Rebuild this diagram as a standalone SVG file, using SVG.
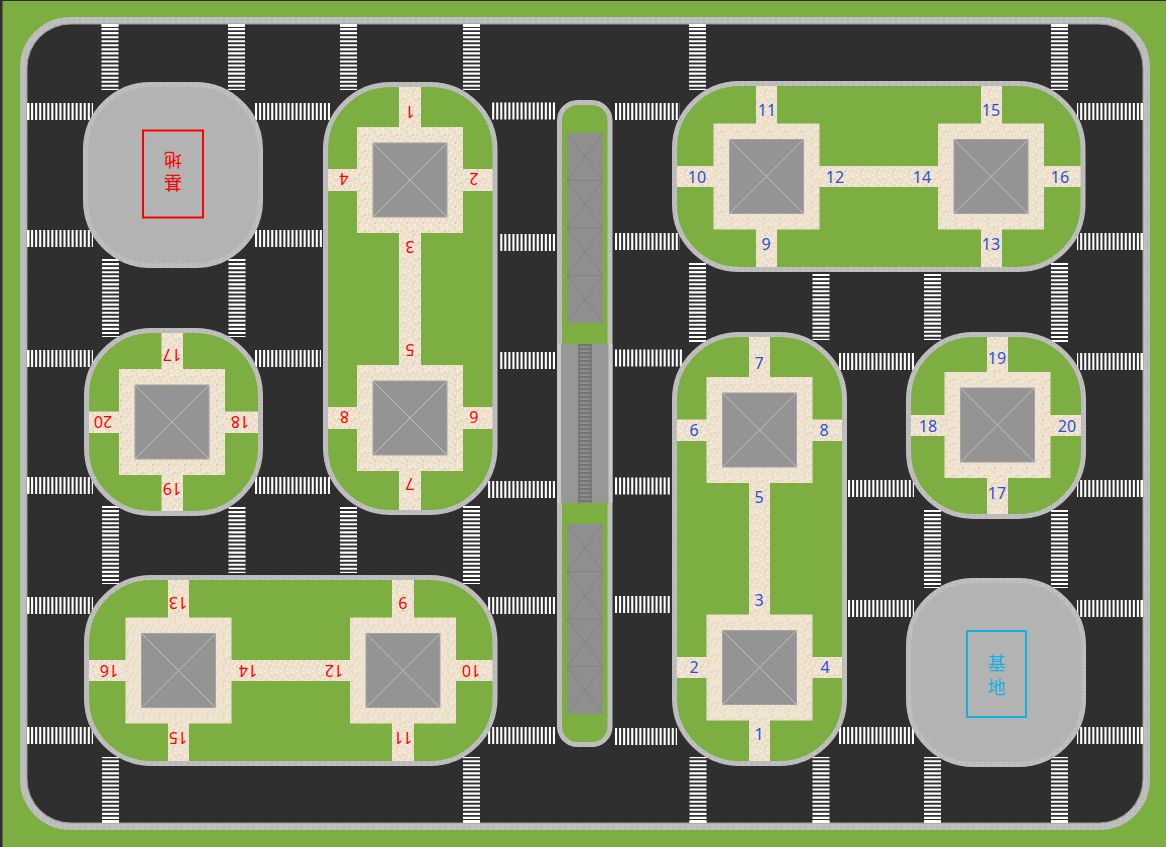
<svg xmlns="http://www.w3.org/2000/svg" width="1166" height="847" viewBox="0 0 1166 847">
<style>
.edge{fill:none;stroke:#9c9c9c;stroke-width:1}
.curb{fill:none;stroke:url(#grain)}
.c5{stroke-width:5}
.z{fill:none;stroke:#fff;stroke-width:17;stroke-dasharray:2.1 1.95}
.zc{fill:none;stroke:#fff;stroke-width:17}
.grass{fill:#7cae41}
.lot{fill:#b3b3b3}
.pave{fill:url(#paving)}
.roof{fill:#949494;stroke:#a4a4a4;stroke-width:1}
.diag{stroke:#bebebe;stroke-width:1;fill:none}
.brace{stroke:#7e7e7e;stroke-width:.7;fill:none}
.b,.r{font-family:"Noto Sans","Open Sans","Liberation Sans",sans-serif;font-size:16px;text-anchor:middle;dominant-baseline:central}
.b{fill:#2b50d8}
.r{fill:#ff0000}
.cjk{font-family:"Noto Sans CJK SC","Noto Sans",sans-serif;font-size:18px;text-anchor:middle;dominant-baseline:central}
</style>
<defs>
<pattern id="paving" width="16" height="16" patternUnits="userSpaceOnUse">
<rect width="16" height="16" fill="#eee2ce"/>
<path d="M0 0h2v2H0zM4 0h2v2H4zM10 2h2v2h-2zM14 0h2v2h-2zM2 4h2v2H2zM8 4h2v2H8zM12 6h2v2h-2zM0 8h2v2H0zM6 8h2v2H6zM10 10h2v2h-2zM4 12h2v2H4zM14 12h2v2h-2zM8 14h2v2H8zM2 14h2v2H2z" fill="#f3eadb"/>
<path d="M6 2h2v2H6zM12 0h2v2h-2zM0 4h2v2H0zM14 4h2v2h-2zM4 6h2v2H4zM10 6h2v2h-2zM2 10h2v2H2zM8 12h2v2H8zM12 14h2v2h-2zM14 8h2v2h-2z" fill="#e9dbc3"/>
<path d="M2 2h2v2H2zM12 10h2v2h-2z" fill="#e1cfb0"/>
</pattern>
<pattern id="grain" width="6" height="6" patternUnits="userSpaceOnUse">
<rect width="6" height="6" fill="#bdbdbd"/>
<rect x="1" y="1" width="1" height="1" fill="#acacac"/>
<rect x="4" y="3" width="1" height="1" fill="#cdcdcd"/>
<rect x="2" y="5" width="1" height="1" fill="#b0b0b0"/>
<rect x="5" y="0" width="1" height="1" fill="#c8c8c8"/>
</pattern>
<g id="building">
<rect class="pave" x="-53" y="-53" width="106" height="106"/>
<rect class="roof" x="-37" y="-37" width="74" height="74"/>
<path class="diag" d="M-37-37L37 37M37-37L-37 37"/>
</g>
<g id="truss">
<rect x="0" y="0" width="36" height="190" fill="#8f8f8f"/>
<path class="brace" d="M0 47.500H36M0 95H36M0 142.500H36M0 0L36 47.500M36 0L0 47.500M0 47.500L36 95M36 47.500L0 95M0 95L36 142.500M36 95L0 142.500M0 142.500L36 190M36 142.500L0 190"/>
</g>
</defs>

<rect id="ground" width="1166" height="847" fill="#7cae41"/>
<path d="M0 0H1166V1H2.500V847H0Z" fill="#2f2f2f"/>

<g id="road">
<rect x="23.500" y="20.500" width="1123" height="806" rx="47" ry="47" fill="#2f2f2f"/>
<rect class="curb" x="23.500" y="20.500" width="1123" height="806" rx="47" ry="47" stroke-width="7"/>
<rect class="edge" x="27" y="24" width="1116" height="799" rx="44" ry="44"/>
</g>

<g id="crossings">
<path class="z" d="M27 111.500H93M255 111.500H330M555 111H492M615 111.500H680M1143 111.500H1077"/>
<path class="z" d="M27 238.500H93M255 238.500H323M555 242.500H499M615 241.500H680M1143 241.500H1077"/>
<path class="z" d="M27 358.500H93M255 358.500H321M555 360.500H499M615 358H682M839 361.500H914M1143 361.500H1077"/>
<path class="z" d="M27 485.500H93M255 485.500H330M555 489.500H488M615 486H670M848 488.500H914M1143 488.500H1077"/>
<path class="z" d="M27 605.500H93M555 605.500H488M615 604.500H670M848 608.500H914M1143 608.500H1077"/>
<path class="z" d="M27 735.500H93M555 735.500H488M615 736.500H677M839 735.500H914M1143 735.500H1077"/>
<path class="z" d="M110 24V90M236.500 24V90M348.500 24V90M471.500 24V90M697.500 24V90M1059.500 24V90"/>
<path class="z" d="M110.500 259V337M237 259V337M697.500 263V342M821 274V340M932.500 274V340M1059.500 263V342"/>
<path class="z" d="M110.500 506V584M237 507V573M348.500 507V573M471.500 506V584M932.500 510V588M1059.500 510V588"/>
<path class="z" d="M110.500 823V757M471.500 823V757M698 823V757M821 823V757M932.500 823V757M1059.500 823V757"/>
<path class="zc" d="M27 111.500H29.500M27 238.500H29.500M27 358.500H29.500M27 485.500H29.500M27 605.500H29.500M27 735.500H29.500M1143 111.500H1140.500M1143 241.500H1140.500M1143 361.500H1140.500M1143 488.500H1140.500M1143 608.500H1140.500M1143 735.500H1140.500"/>
<path class="zc" d="M110 24V27M236.500 24V27M348.500 24V27M471.500 24V27M697.500 24V27M1059.500 24V27M110.500 823V820M471.500 823V820M698 823V820M821 823V820M932.500 823V820M1059.500 823V820"/>
</g>

<g id="base-red">
<rect class="lot" x="85.500" y="84.500" width="175" height="181" rx="65" ry="65"/>
<rect class="curb c5" x="85.500" y="84.500" width="175" height="181" rx="65" ry="65"/>
<rect x="143" y="130.500" width="60" height="87" fill="none" stroke="#ff0000" stroke-width="2"/>
<text class="cjk" fill="#ff0000" transform="rotate(180 173 184)" x="173" y="184">基</text>
<text class="cjk" fill="#ff0000" transform="rotate(180 173 161)" x="173" y="161">地</text>
</g>

<g id="island-red-tall">
<rect class="grass" x="325.500" y="84.500" width="169.500" height="428" rx="65" ry="65"/>
<path class="pave" d="M399 85H421V510H399ZM326 169H494V191H326ZM326 407H494V429H326Z"/>
<use href="#building" x="410" y="180"/><use href="#building" x="410" y="418"/>
<rect class="curb c5" x="325.500" y="84.500" width="169.500" height="428" rx="65" ry="65"/>
<text class="r" transform="rotate(180 410 112)" x="410" y="112">1</text>
<text class="r" transform="rotate(180 474 179)" x="474" y="179">2</text>
<text class="r" transform="rotate(180 344 179)" x="344" y="179">4</text>
<text class="r" transform="rotate(180 410 247)" x="410" y="247">3</text>
<text class="r" transform="rotate(180 410 350)" x="410" y="350">5</text>
<text class="r" transform="rotate(180 344.500 417)" x="344.500" y="417">8</text>
<text class="r" transform="rotate(180 474 417)" x="474" y="417">6</text>
<text class="r" transform="rotate(180 410 484)" x="410" y="484">7</text>
</g>

<g id="island-red-round">
<rect class="grass" x="86.500" y="330.500" width="174" height="183" rx="65" ry="65"/>
<path class="pave" d="M161.500 331H183V513H161.500ZM87 411.500H260V433H87Z"/>
<use href="#building" x="172" y="422"/>
<rect class="curb c5" x="86.500" y="330.500" width="174" height="183" rx="65" ry="65"/>
<text class="r" transform="rotate(180 172 355)" x="172" y="355">17</text>
<text class="r" transform="rotate(180 103 422)" x="103" y="422">20</text>
<text class="r" transform="rotate(180 240 422)" x="240" y="422">18</text>
<text class="r" transform="rotate(180 172 489)" x="172" y="489">19</text>
</g>

<g id="island-red-wide">
<rect class="grass" x="86.500" y="577.500" width="408.500" height="186" rx="65" ry="65"/>
<path class="pave" d="M168 578H189V763H168ZM392 578H414V763H392ZM87 660H494V681H87Z"/>
<use href="#building" x="178.500" y="670.500"/><use href="#building" x="403" y="670.500"/>
<rect class="curb c5" x="86.500" y="577.500" width="408.500" height="186" rx="65" ry="65"/>
<text class="r" transform="rotate(180 178 603)" x="178" y="603">13</text>
<text class="r" transform="rotate(180 403 603)" x="403" y="603">9</text>
<text class="r" transform="rotate(180 109 671)" x="109" y="671">16</text>
<text class="r" transform="rotate(180 248 671)" x="248" y="671">14</text>
<text class="r" transform="rotate(180 334 671)" x="334" y="671">12</text>
<text class="r" transform="rotate(180 471 671)" x="471" y="671">10</text>
<text class="r" transform="rotate(180 178 738)" x="178" y="738">15</text>
<text class="r" transform="rotate(180 403 738)" x="403" y="738">11</text>
</g>

<g id="median">
<rect class="grass" x="559.500" y="102.500" width="50.500" height="642" rx="18" ry="18"/>
<rect class="curb c5" x="559.500" y="102.500" width="50.500" height="642" rx="18" ry="18"/>
<use href="#truss" x="567" y="133"/>
<use href="#truss" x="567" y="524"/>
<rect x="557" y="344" width="55.500" height="159" fill="#c8c8c8"/>
<rect x="561" y="344" width="47.500" height="159" fill="#979797"/>
<rect x="578" y="344" width="14" height="159" fill="#8c8c8c"/>
<path d="M585 344V503" fill="none" stroke="#757575" stroke-width="14" stroke-dasharray="2 2"/>
<path d="M579 344V503M591 344V503" fill="none" stroke="#757575" stroke-width="1.500"/>
</g>

<g id="island-blue-wide">
<rect class="grass" x="674.500" y="83.500" width="408.500" height="186" rx="65" ry="65"/>
<path class="pave" d="M756 84H777V269H756ZM981 84H1002V269H981ZM675 166H1083V187H675Z"/>
<use href="#building" x="766.500" y="176.500"/><use href="#building" x="991" y="176.500"/>
<rect class="curb c5" x="674.500" y="83.500" width="408.500" height="186" rx="65" ry="65"/>
<text class="b" x="767" y="110">11</text>
<text class="b" x="991" y="110">15</text>
<text class="b" x="697" y="177">10</text>
<text class="b" x="835" y="177">12</text>
<text class="b" x="922" y="177">14</text>
<text class="b" x="1060" y="177">16</text>
<text class="b" x="766" y="244">9</text>
<text class="b" x="991" y="244">13</text>
</g>

<g id="island-blue-tall">
<rect class="grass" x="674.500" y="334.500" width="170" height="429" rx="65" ry="65"/>
<path class="pave" d="M749 335H770V763H749ZM675 419.500H844V441H675ZM675 657H844V678H675Z"/>
<use href="#building" x="759.500" y="430"/><use href="#building" x="759.500" y="667.500"/>
<rect class="curb c5" x="674.500" y="334.500" width="170" height="429" rx="65" ry="65"/>
<text class="b" x="759" y="363">7</text>
<text class="b" x="694" y="430">6</text>
<text class="b" x="824" y="430">8</text>
<text class="b" x="759" y="497">5</text>
<text class="b" x="759" y="600">3</text>
<text class="b" x="694" y="667">2</text>
<text class="b" x="825" y="667">4</text>
<text class="b" x="759" y="734">1</text>
</g>

<g id="island-blue-round">
<rect class="grass" x="908.500" y="334.500" width="175" height="182" rx="65" ry="65"/>
<path class="pave" d="M987 335H1008V516H987ZM909 415H1083V436H909Z"/>
<use href="#building" x="997.500" y="425"/>
<rect class="curb c5" x="908.500" y="334.500" width="175" height="182" rx="65" ry="65"/>
<text class="b" x="997" y="358">19</text>
<text class="b" x="928" y="426">18</text>
<text class="b" x="1067" y="426">20</text>
<text class="b" x="997" y="493">17</text>
</g>

<g id="base-blue">
<rect class="lot" x="908.500" y="580.500" width="175" height="184" rx="65" ry="65"/>
<rect class="curb c5" x="908.500" y="580.500" width="175" height="184" rx="65" ry="65"/>
<rect x="967" y="631" width="59" height="86" fill="none" stroke="#14b1e4" stroke-width="2"/>
<text class="cjk" fill="#14b1e4" x="996.500" y="662">基</text>
<text class="cjk" fill="#14b1e4" x="996.500" y="686">地</text>
</g>
</svg>
